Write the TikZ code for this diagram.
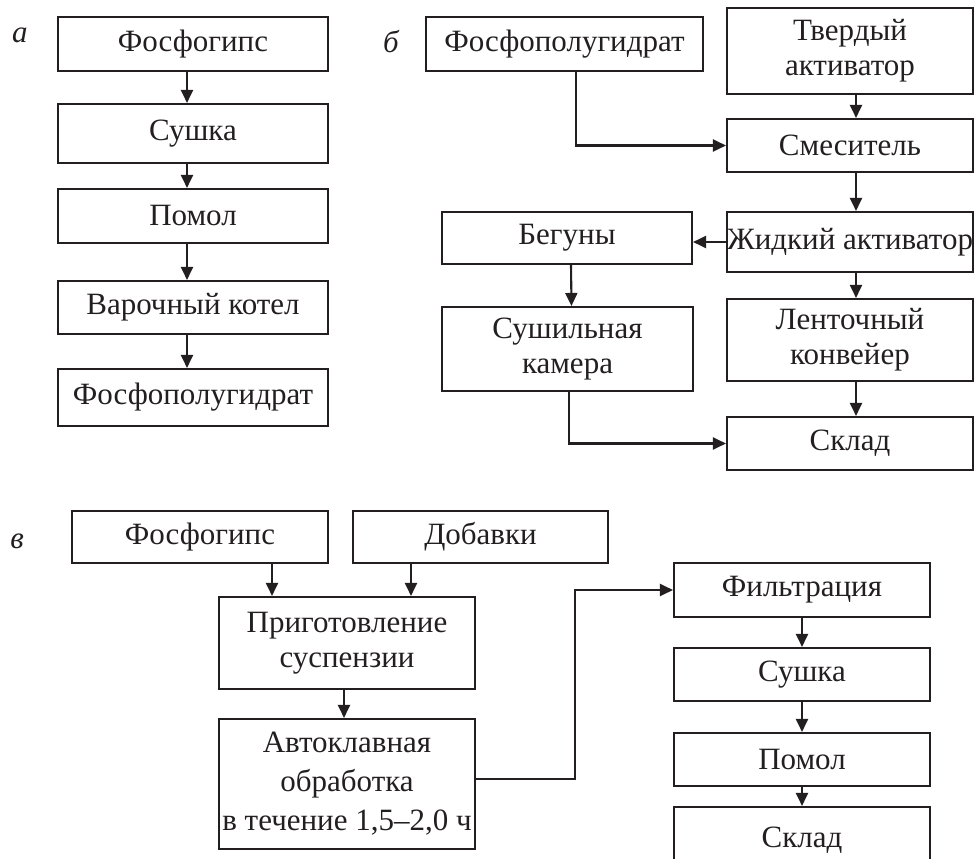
\documentclass[tikz,border=0pt]{standalone}
\usepackage{fontspec}
\setmainfont{Liberation Serif}
\usetikzlibrary{arrows.meta}
\definecolor{ink}{RGB}{35,31,32}
\tikzset{
  box/.style={draw=ink, line width=2.1pt, rectangle, inner sep=0pt, align=center,
    text=ink, font=\fontsize{31}{35}\selectfont},
  arr/.style={draw=ink, line width=2.1pt, -{Triangle[length=13pt,width=12pt]}},
  lab/.style={text=ink, font=\fontsize{31}{35}\selectfont\itshape, inner sep=0pt}
}
\begin{document}
\begin{tikzpicture}[x=1pt,y=-1pt]
\clip (0,0) rectangle (975,859);
\useasboundingbox (0,0) rectangle (975,859);

% labels
\node[lab] (la) at (20,35) {а};
\node[lab] (lb) at (391,42) {б};
\node[lab] (lc) at (17,541) {в};

% panel a
\node[box, minimum width=270, minimum height=54] (a1) at (193,44) {Фосфогипс};
\node[box, minimum width=270, minimum height=59] (a2) at (193,133.5) {Сушка};
\node[box, minimum width=270, minimum height=54] (a3) at (193,216) {Помол};
\node[box, minimum width=270, minimum height=53] (a4) at (193,307.5) {Варочный котел};
\node[box, minimum width=270, minimum height=57] (a5) at (193,397.5) {Фосфополугидрат};
\draw[arr] ([xshift=-6pt]a1.south) -- ([xshift=-6pt]a2.north);
\draw[arr] ([xshift=-6pt]a2.south) -- ([xshift=-6pt]a3.north);
\draw[arr] ([xshift=-6pt]a3.south) -- ([xshift=-6pt]a4.north);
\draw[arr] ([xshift=-6pt]a4.south) -- ([xshift=-6pt]a5.north);

% panel b
\node[box, minimum width=277, minimum height=54] (b1) at (564.5,44) {Фосфополугидрат};
\node[box, minimum width=246, minimum height=86] (b2) at (850,51) {Твердый\\активатор};
\node[box, minimum width=246, minimum height=53] (b3) at (850,145.5) {Смеситель};
\node[box, minimum width=246, minimum height=60] (b4) at (850,242) {Жидкий активатор};
\node[box, minimum width=250, minimum height=52] (b5) at (567,238) {Бегуны};
\node[box, minimum width=251, minimum height=84] (b6) at (567.5,349) {Сушильная\\камера};
\node[box, minimum width=246, minimum height=82] (b7) at (850,340) {Ленточный\\конвейер};
\node[box, minimum width=246, minimum height=53] (b8) at (850,443.5) {Склад};
\draw[arr] ([xshift=6pt]b2.south) -- ([xshift=6pt]b3.north);
\draw[arr] ([xshift=6pt]b3.south) -- ([xshift=6pt]b4.north);
\draw[arr] ([xshift=6pt]b4.south) -- ([xshift=6pt]b7.north);
\draw[arr] ([xshift=6pt]b7.south) -- ([xshift=6pt]b8.north);
\draw[arr] ([xshift=11.5pt]b1.south) |- (b3.west);
\draw[arr] (b4.west) -- (b4.west -| b5.east);
\draw[arr] ([xshift=4pt]b5.south) -- ([xshift=4pt]b6.north);
\draw[arr] ([xshift=1.5pt]b6.south) |- (b8.west);

% panel c
\node[box, minimum width=256, minimum height=52] (c1) at (200,537) {Фосфогипс};
\node[box, minimum width=255, minimum height=52] (c2) at (480.5,537) {Добавки};
\node[box, minimum width=256, minimum height=92] (c3) at (347,643) {Приготовление\\суспензии};
\node[box, minimum width=256, minimum height=130, font=\fontsize{31}{39}\selectfont] (c4) at (347,784) {Автоклавная\\обработка\\в течение 1,5–2,0 ч};
\node[box, minimum width=256, minimum height=54] (c5) at (802,590) {Фильтрация};
\node[box, minimum width=256, minimum height=53] (c6) at (802,674.5) {Сушка};
\node[box, minimum width=256, minimum height=53] (c7) at (802,759.5) {Помол};
\node[box, minimum width=256, minimum height=66] (c8) at (802,840) {Склад};
\draw[arr] ([xshift=72pt]c1.south) -- ([xshift=72pt]c1.south |- c3.north);
\draw[arr] ([xshift=-69.5pt]c2.south) -- ([xshift=-69.5pt]c2.south |- c3.north);
\draw[arr] ([xshift=-3pt]c3.south) -- ([xshift=-3pt]c4.north);
\coordinate (cj) at (575,590);
\draw[arr] ([yshift=5pt]c4.east) -| (cj) -- (c5.west);
\draw[arr] (c5.south) -- (c6.north);
\draw[arr] (c6.south) -- (c7.north);
\draw[arr] (c7.south) -- (c8.north);
\end{tikzpicture}
\end{document}
